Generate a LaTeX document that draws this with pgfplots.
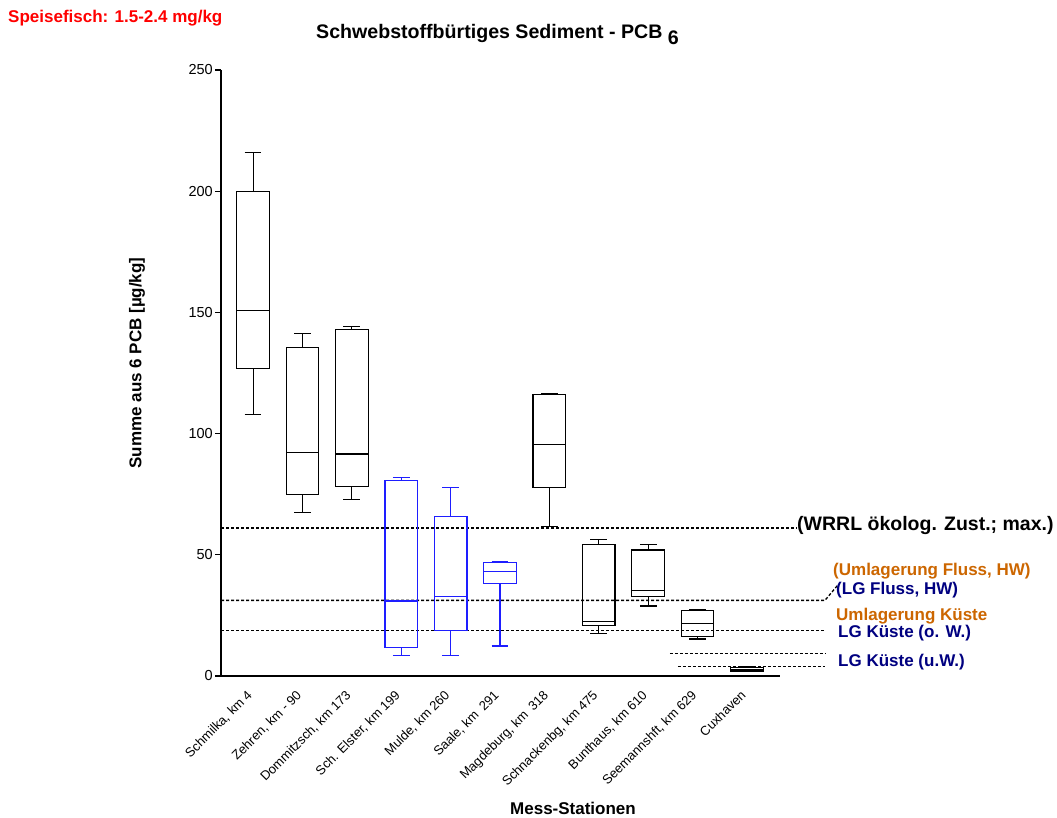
\documentclass[border=0pt]{standalone}
\usepackage{fontspec}
\setmainfont{Liberation Sans}
\usepackage{pgfplots}
\pgfplotsset{compat=1.18}
\usepgfplotslibrary{statistics}
\definecolor{umorange}{RGB}{204,102,0}
\definecolor{lgnavy}{RGB}{0,0,128}
\definecolor{boxblue}{RGB}{30,30,255}
\begin{document}
\begin{tikzpicture}
\path[use as bounding box] (0pt,0pt) rectangle (1057pt,818pt);
\begin{axis}[
  at={(221pt,142pt)}, anchor=south west,
  scale only axis, width=559pt, height=606pt,
  xmin=-0.65, xmax=10.67, ymin=0, ymax=250,
  clip=false,
  axis x line*=bottom, axis y line*=left,
  axis line style={-, line width=1.2pt, black},
  ytick={0,50,100,150,200,250},
  /pgf/number format/assume math mode=true,
  yticklabel style={font=\fontsize{14.5}{16}\selectfont, inner sep=2pt},
  major tick length=6pt, tick align=outside,
  ytick style={line width=1.2pt, black},
  xtick={0,1,2,3,4,5,6,7,8,9,10},
  xtick style={draw=none},
  xticklabels={{Schmilka, km 4},{Zehren, km - 90},{Dommitzsch, km 173},{Sch. Elster, km 199},{Mulde, km 260},{Saale, km\enspace 291},{Magdeburg, km\enspace 318},{Schnackenbg, km 475},{Bunthaus, km 610},{Seemannshft, km 629},{Cuxhaven}},
  xticklabel style={font=\fontsize{13}{15}\selectfont, rotate=45, anchor=north east, inner sep=0pt, xshift=-10pt, yshift=0pt},
  boxplot/draw direction=y,
  boxplot/box extend=0.66,
  boxplot/whisker extend=0.34,
]
% reference lines
\addplot[black, line width=1.3pt, dash pattern=on 3pt off 2pt] coordinates {(-0.65,61) (11.01,61)};
\addplot[black, line width=1.3pt, dash pattern=on 3pt off 2pt] coordinates {(-0.65,31.2) (11.58,31.2) (11.84,37.5)};
\addplot[black, line width=1.3pt, dash pattern=on 3pt off 2pt] coordinates {(-0.65,18.7) (11.58,18.7)};
\addplot[black, line width=1.3pt, dash pattern=on 3pt off 2pt] coordinates {(8.44,9.4) (11.58,9.4)};
\addplot[black, line width=1.3pt, dash pattern=on 3pt off 2pt] coordinates {(8.60,4.0) (11.58,4.0)};
% boxes
\addplot[black, line width=1.2pt, boxplot prepared={draw position=0, lower whisker=108, lower quartile=126.7, median=150.8, upper quartile=200, upper whisker=216}] coordinates {};
\addplot[black, line width=1.2pt, boxplot prepared={draw position=1, lower whisker=67.5, lower quartile=74.8, median=92.3, upper quartile=135.6, upper whisker=141.4}] coordinates {};
\addplot[black, line width=1.2pt, boxplot prepared={draw position=2, lower whisker=72.9, lower quartile=78.2, median=91.6, upper quartile=143.1, upper whisker=144.3}] coordinates {};
\addplot[boxblue, line width=1.2pt, boxplot prepared={draw position=3, lower whisker=8.5, lower quartile=11.8, median=30.9, upper quartile=80.7, upper whisker=82}] coordinates {};
\addplot[boxblue, line width=1.2pt, boxplot prepared={draw position=4, lower whisker=8.4, lower quartile=18.7, median=32.8, upper quartile=65.7, upper whisker=77.6}] coordinates {};
\addplot[boxblue, line width=1.2pt, boxplot prepared={draw position=5, lower whisker=12.4, lower quartile=38.2, median=43.2, upper quartile=46.7, upper whisker=47.0}] coordinates {};
\addplot[black, line width=1.2pt, boxplot prepared={draw position=6, lower whisker=61.7, lower quartile=77.8, median=95.6, upper quartile=116.1, upper whisker=116.7}] coordinates {};
\addplot[black, line width=1.2pt, boxplot prepared={draw position=7, lower whisker=17.6, lower quartile=20.9, median=22.4, upper quartile=54.3, upper whisker=56.4}] coordinates {};
\addplot[black, line width=1.2pt, boxplot prepared={draw position=8, lower whisker=28.9, lower quartile=32.7, median=35.2, upper quartile=52.0, upper whisker=54.2}] coordinates {};
\addplot[black, line width=1.2pt, boxplot prepared={draw position=9, lower whisker=15.3, lower quartile=16.2, median=21.5, upper quartile=27.1, upper whisker=27.5}] coordinates {};
\addplot[black, line width=1.2pt, boxplot prepared={draw position=10, lower whisker=1.7, lower quartile=2.1, median=2.6, upper quartile=3.6, upper whisker=3.7}] coordinates {};
\end{axis}
\node[anchor=west, inner sep=0pt, text=red, font=\fontsize{17}{20}\selectfont\bfseries] at (8pt,800pt) {Speisefisch: 1.5-2.4 mg/kg};
\node[anchor=west, inner sep=0pt, font=\fontsize{19.6}{22}\selectfont\bfseries] at (316pt,783pt) {Schwebstoffbürtiges Sediment - PCB\ \raisebox{-6pt}{6}};
\node[rotate=90, inner sep=0pt, font=\fontsize{17}{20}\selectfont\bfseries] at (137pt,455pt) {Summe aus 6 PCB [µg/kg]};
\node[inner sep=0pt, font=\fontsize{17}{20}\selectfont\bfseries] at (573pt,10pt) {Mess-Stationen};
\node[anchor=west, inner sep=0pt, font=\fontsize{19.5}{22}\selectfont\bfseries] at (797pt,292pt) {(WRRL ökolog. Zust.; max.)};
\node[anchor=west, inner sep=0pt, text=umorange, font=\fontsize{17}{20}\selectfont\bfseries] at (833pt,247pt) {(Umlagerung Fluss, HW)};
\node[anchor=west, inner sep=0pt, text=lgnavy, font=\fontsize{17}{20}\selectfont\bfseries] at (836pt,228pt) {(LG Fluss, HW)};
\node[anchor=west, inner sep=0pt, text=umorange, font=\fontsize{17}{20}\selectfont\bfseries] at (836pt,202pt) {Umlagerung Küste};
\node[anchor=west, inner sep=0pt, text=lgnavy, font=\fontsize{17}{20}\selectfont\bfseries] at (838pt,185pt) {LG Küste (o. W.)};
\node[anchor=west, inner sep=0pt, text=lgnavy, font=\fontsize{17}{20}\selectfont\bfseries] at (838pt,156pt) {LG Küste (u.W.)};
\end{tikzpicture}
\end{document}
